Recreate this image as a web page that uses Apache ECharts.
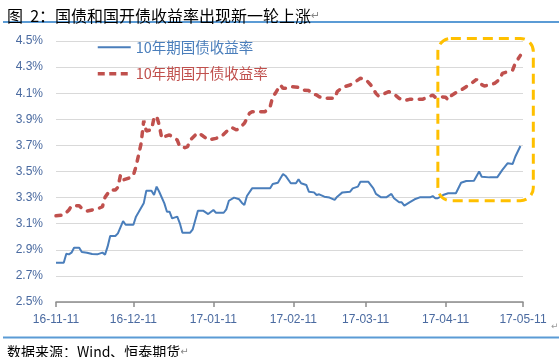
<!DOCTYPE html>
<html>
<head>
<meta charset="utf-8">
<script src="https://cdn.jsdelivr.net/npm/echarts@6/dist/echarts.min.js"></script>
<style>
html,body{margin:0;padding:0;background:#fff;}
#c{width:559px;height:357px;}
</style>
</head>
<body>
<div id="c"></div>
<script>
// ---- data ----
const titleText = '图  2：国债和国开债收益率出现新一轮上涨';
const sourceText = '数据来源：Wind、恒泰期货';
const seriesNames = ['10年期国债收益率', '10年期国开债收益率'];
const tickDates = ['2016-11-11','2016-12-11','2017-01-11','2017-02-11','2017-03-11','2017-04-11','2017-05-11'];
const yTicks = [2.5, 2.7, 2.9, 3.1, 3.3, 3.5, 3.7, 3.9, 4.1, 4.3, 4.5];

const govDates = ['2016-11-11','2016-11-14','2016-11-15','2016-11-16','2016-11-17','2016-11-18','2016-11-20','2016-11-21','2016-11-23','2016-11-25','2016-11-27','2016-11-29','2016-11-30',
'2016-12-01','2016-12-02','2016-12-04','2016-12-05','2016-12-07','2016-12-08','2016-12-11','2016-12-12','2016-12-13','2016-12-15','2016-12-16','2016-12-18','2016-12-19','2016-12-20','2016-12-21','2016-12-23','2016-12-24','2016-12-25','2016-12-26','2016-12-28','2016-12-29','2016-12-30',
'2017-01-02','2017-01-03','2017-01-05','2017-01-07','2017-01-09','2017-01-11','2017-01-12','2017-01-15','2017-01-16','2017-01-17','2017-01-19','2017-01-21','2017-01-22','2017-01-23','2017-01-24','2017-01-26',
'2017-02-02','2017-02-03','2017-02-05','2017-02-06','2017-02-07','2017-02-08','2017-02-10','2017-02-12','2017-02-13','2017-02-14','2017-02-16','2017-02-17','2017-02-19','2017-02-20','2017-02-21','2017-02-23','2017-02-25','2017-02-27','2017-02-28',
'2017-03-02','2017-03-05','2017-03-06','2017-03-08','2017-03-09','2017-03-12','2017-03-14','2017-03-15','2017-03-17','2017-03-19','2017-03-21','2017-03-22','2017-03-24','2017-03-25','2017-03-26','2017-03-28','2017-03-30',
'2017-04-01','2017-04-05','2017-04-06','2017-04-07','2017-04-08','2017-04-10','2017-04-12','2017-04-15','2017-04-17','2017-04-19','2017-04-22','2017-04-24','2017-04-25','2017-04-28',
'2017-05-01','2017-05-03','2017-05-05','2017-05-07','2017-05-08','2017-05-10'];
const govValues = [2.80,2.80,2.87,2.865,2.878,2.916,2.916,2.883,2.878,2.868,2.865,2.878,2.863,
2.924,3.006,3.006,3.026,3.12,3.092,3.092,3.154,3.187,3.256,3.353,3.353,3.32,3.384,3.345,3.256,3.192,3.192,3.141,3.154,3.103,3.031,
3.031,3.057,3.20,3.20,3.174,3.205,3.184,3.184,3.21,3.276,3.30,3.287,3.261,3.243,3.312,3.371,
3.371,3.404,3.414,3.448,3.481,3.466,3.41,3.41,3.44,3.41,3.397,3.345,3.34,3.32,3.325,3.307,3.30,3.282,3.307,
3.34,3.345,3.371,3.384,3.422,3.422,3.371,3.328,3.302,3.302,3.328,3.295,3.264,3.264,3.238,3.264,3.287,
3.302,3.302,3.312,3.295,3.295,3.32,3.333,3.333,3.414,3.427,3.43,3.50,3.46,3.455,
3.455,3.512,3.563,3.558,3.613,3.695];

const cdbDates = ['2016-11-11','2016-11-14','2016-11-16','2016-11-17','2016-11-20','2016-11-21','2016-11-23','2016-11-25','2016-11-27','2016-11-29','2016-11-30',
'2016-12-02','2016-12-04','2016-12-05','2016-12-06','2016-12-07','2016-12-10','2016-12-11','2016-12-12','2016-12-13','2016-12-14','2016-12-15','2016-12-16','2016-12-18','2016-12-19','2016-12-20','2016-12-21','2016-12-22','2016-12-23','2016-12-25','2016-12-26','2016-12-28','2016-12-29','2016-12-31',
'2017-01-01','2017-01-02','2017-01-04','2017-01-05','2017-01-07','2017-01-09','2017-01-10','2017-01-12','2017-01-14','2017-01-16','2017-01-18','2017-01-20','2017-01-22','2017-01-23','2017-01-25','2017-01-26','2017-01-31',
'2017-02-02','2017-02-03','2017-02-04','2017-02-06','2017-02-07','2017-02-08','2017-02-10','2017-02-13','2017-02-15','2017-02-17','2017-02-18','2017-02-20','2017-02-21','2017-02-23','2017-02-27','2017-02-28',
'2017-03-02','2017-03-05','2017-03-07','2017-03-09','2017-03-11','2017-03-13','2017-03-15','2017-03-16','2017-03-18','2017-03-20','2017-03-22','2017-03-24','2017-03-26','2017-03-28',
'2017-04-02','2017-04-04','2017-04-06','2017-04-07','2017-04-09','2017-04-11','2017-04-12','2017-04-13','2017-04-15','2017-04-17','2017-04-19','2017-04-21','2017-04-23','2017-04-24','2017-04-26','2017-04-28','2017-04-30',
'2017-05-02','2017-05-03','2017-05-05','2017-05-07','2017-05-08','2017-05-10'];
const cdbValues = [3.161,3.166,3.205,3.236,3.238,3.218,3.197,3.205,3.213,3.23,3.302,
3.358,3.358,3.379,3.473,3.435,3.455,3.473,3.537,3.626,3.716,3.89,3.81,3.82,3.91,3.925,3.856,3.754,3.767,3.78,3.767,3.741,3.69,3.682,
3.69,3.741,3.78,3.797,3.772,3.741,3.746,3.754,3.767,3.805,3.838,3.818,3.85,3.869,3.946,3.958,3.958,
3.997,4.073,4.099,4.163,4.137,4.137,4.15,4.145,4.124,4.12,4.099,4.086,4.073,4.061,4.061,4.112,
4.145,4.163,4.188,4.214,4.206,4.163,4.099,4.078,4.094,4.112,4.094,4.061,4.043,4.053,
4.053,4.069,4.086,4.069,4.073,4.069,4.048,4.079,4.104,4.124,4.15,4.176,4.206,4.176,4.155,4.163,4.176,
4.206,4.252,4.265,4.278,4.33,4.39];

// highlighted window (annotation box) in data terms
const boxDates = ['2017-04-08', '2017-05-15'];
const boxValues = [3.276, 4.52];

// ---- chart ----
const DAY = 86400000;
function dayNum(s){ const p = s.split('-').map(Number); return Date.UTC(p[0], p[1]-1, p[2]) / DAY; }
function pad(n){ return (n<10?'0':'')+n; }
function fmtDay(v){ const d = new Date(Math.round(v) * DAY); return pad(d.getUTCFullYear()%100)+'-'+pad(d.getUTCMonth()+1)+'-'+pad(d.getUTCDate()); }

const BLUE = '#4a7ebb', RED = '#c0504d';
const labelColor = '#4a6aa0';
const redDash = { width: 3.5, type: [5, 7.5], cap: 'round' };

const chart = echarts.init(document.getElementById('c'), null, {renderer:'canvas'});
const tickDays = tickDates.map(dayNum);

chart.setOption({
  animation: false,
  backgroundColor: '#fff',
  title: [
    { text: '{a|' + titleText + '}{b|↵}', left: 2, top: 3,
      textStyle: { fontWeight: 'normal', rich: {
        a: { fontSize: 16, color: '#000', fontWeight: 'normal', fontFamily: 'Noto Sans CJK SC' },
        b: { fontSize: 11, color: '#888', fontWeight: 'normal', fontFamily: 'DejaVu Sans' } } } },
    { text: '{a|' + sourceText + '}{b|↵}', left: 2, top: 340,
      textStyle: { fontWeight: 'normal', rich: {
        a: { fontSize: 14, color: '#000', fontWeight: 'normal', fontFamily: 'Noto Sans CJK SC' },
        b: { fontSize: 10, color: '#888', fontWeight: 'normal', fontFamily: 'DejaVu Sans' } } } }
  ],
  legend: {
    orient: 'vertical', left: 91, top: 35, itemWidth: 33, itemHeight: 14, itemGap: 12,
    itemStyle: { opacity: 0 },
    textStyle: { fontSize: 14.5, fontFamily: 'Noto Sans CJK SC' },
    data: [
      { name: seriesNames[0], textStyle: { color: BLUE }, lineStyle: { width: 2 } },
      { name: seriesNames[1], textStyle: { color: RED }, lineStyle: { width: 3.5, type: [7, 4.5], cap: 'butt' } }
    ]
  },
  grid: { left: 56, right: 36, top: 41, bottom: 55, containLabel: false },
  xAxis: {
    type: 'value', min: tickDays[0], max: tickDays[tickDays.length-1],
    axisLine: { show: true, lineStyle: { color: '#8c8c8c', width: 1.5 } },
    axisTick: { show: true, length: 5, lineStyle: { color: '#8c8c8c', width: 1.5 }, customValues: tickDays },
    axisLabel: { customValues: tickDays, formatter: fmtDay, color: labelColor, fontSize: 12,
      fontFamily: 'Liberation Sans', margin: 12, hideOverlap: false, showMinLabel: true, showMaxLabel: true },
    splitLine: { show: false }
  },
  yAxis: {
    type: 'value', min: yTicks[0], max: yTicks[yTicks.length-1], interval: 0.2,
    axisLine: { show: false }, axisTick: { show: false },
    axisLabel: { formatter: v => v.toFixed(1) + '%', color: labelColor, fontSize: 12, fontFamily: 'Liberation Sans', margin: 13 },
    splitLine: { show: true, lineStyle: { color: '#d9d9d9', width: 1 } }
  },
  series: [
    { name: seriesNames[0], type: 'line', symbol: 'none', z: 3,
      data: govDates.map((d,i) => [dayNum(d), govValues[i]]),
      lineStyle: { color: BLUE, width: 2 }, itemStyle: { color: BLUE } },
    { name: seriesNames[1], type: 'line', symbol: 'none', z: 2,
      data: cdbDates.map((d,i) => [dayNum(d), cdbValues[i]]),
      lineStyle: Object.assign({ color: RED }, redDash), itemStyle: { color: RED } }
  ]
});

const p1 = chart.convertToPixel({gridIndex:0}, [dayNum(boxDates[0]), boxValues[1]]);
const p2 = chart.convertToPixel({gridIndex:0}, [dayNum(boxDates[1]), boxValues[0]]);
chart.setOption({
  graphic: [
    { type: 'line', shape: { x1: 3, y1: 22, x2: 559, y2: 22 }, style: { stroke: '#5b9bd5', lineWidth: 2 } },
    { type: 'line', shape: { x1: 3, y1: 337.5, x2: 559, y2: 337.5 }, style: { stroke: '#5b9bd5', lineWidth: 2 } },
    { type: 'text', x: 551, y: 322, style: { text: '↵', fontSize: 9, fill: '#999', fontFamily: 'DejaVu Sans' } },
    { type: 'rect', z: 10,
      shape: { x: p1[0], y: p1[1], width: p2[0]-p1[0], height: p2[1]-p1[1], r: 13 },
      style: { fill: 'none', stroke: '#ffc000', lineWidth: 3, lineDash: [10, 6] } }
  ]
});
</script>
</body>
</html>
